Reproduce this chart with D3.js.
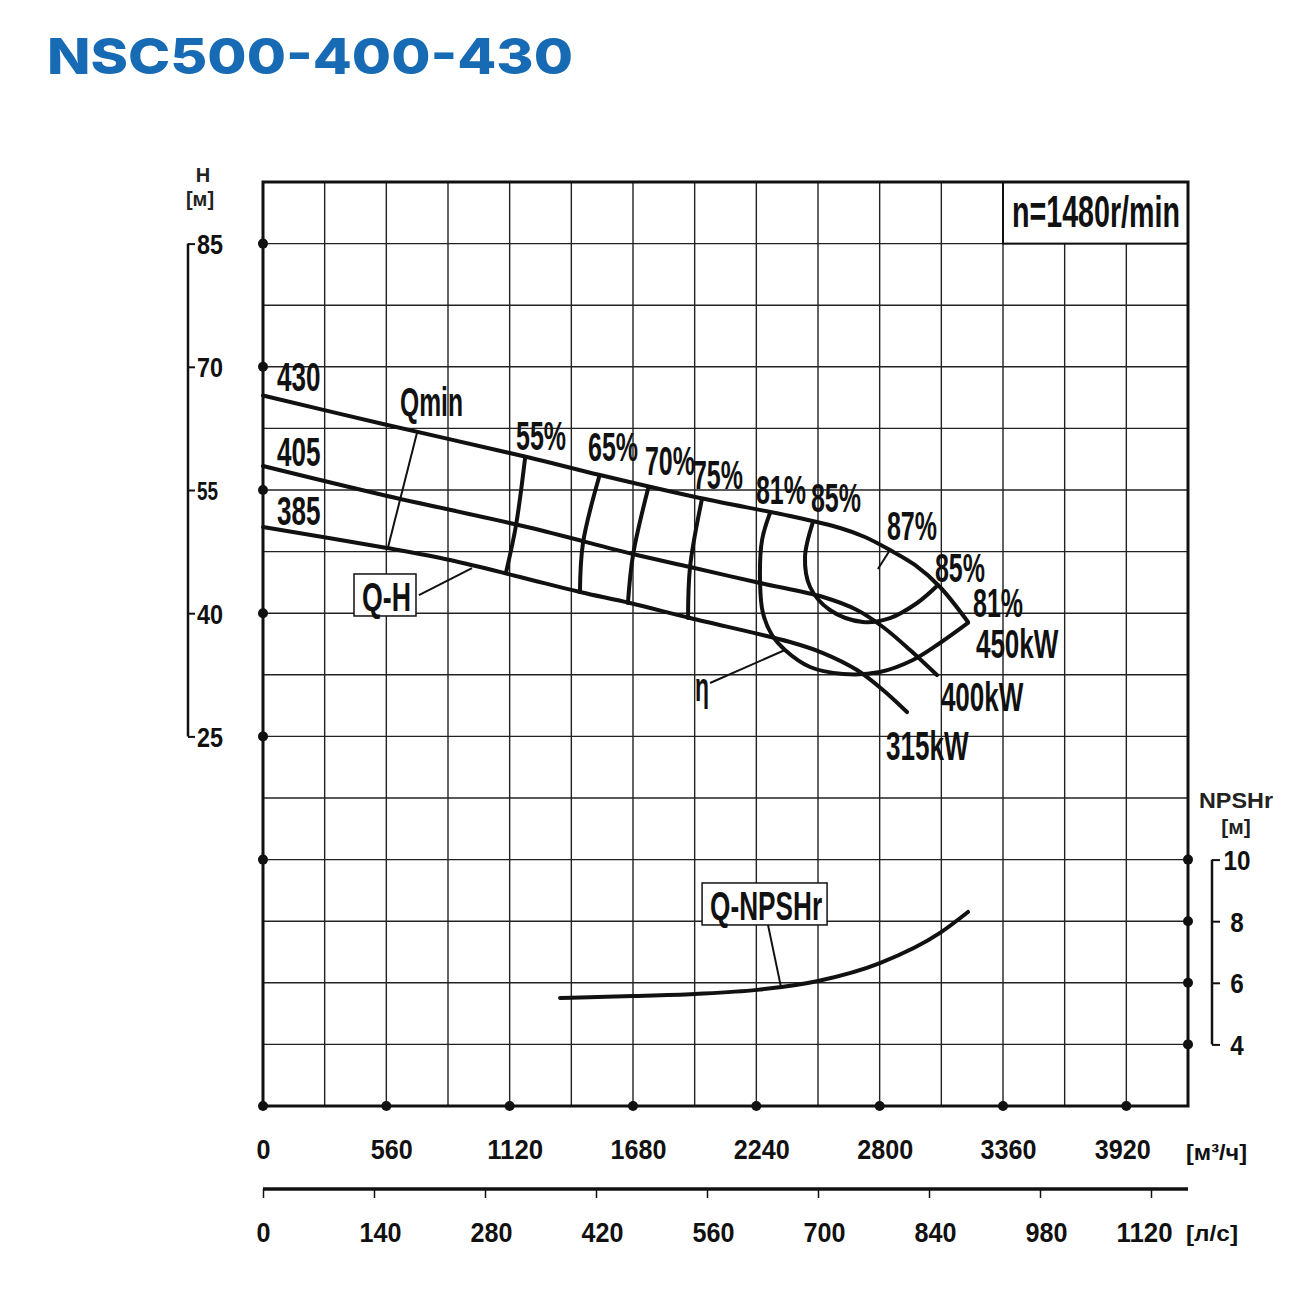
<!DOCTYPE html>
<html>
<head>
<meta charset="utf-8">
<script src="https://cdn.jsdelivr.net/npm/d3@7"></script>
<style>
  body { margin: 0; background: #fff; }
</style>
</head>
<body>
<svg id="chart"></svg>
<script>
// flow in m3/h, head in m, NPSHr in m
const qTicks = [0, 560, 1120, 1680, 2240, 2800, 3360, 3920];
const lsTicks = [0, 140, 280, 420, 560, 700, 840, 980, 1120];
const hTicks = [85, 70, 55, 40, 25];
const hDots = [85, 70, 55, 40, 25, 10];
const npshTicks = [10, 8, 6, 4];

// Q-H curves for the three impeller diameters
const qh430 = [[0, 66.50], [545, 63.03], [1199, 59.02], [1530, 56.82], [1984, 54.02], [2393, 51.83],
  [2620, 50.37], [2733, 49.28], [2847, 47.69], [2960, 45.87], [3074, 43.19], [3201, 38.93]];
const qh405 = [[0, 57.92], [545, 54.39], [1199, 50.49], [1680, 47.21], [1939, 45.62], [2257, 43.68],
  [2543, 41.97], [2697, 40.39], [2815, 38.32], [2938, 35.52], [3060, 32.47]];
const qh385 = [[0, 50.49], [563, 47.94], [849, 46.48], [1167, 44.41], [1439, 42.58], [1666, 41.24],
  [1939, 39.41], [2393, 36.49], [2543, 35.15], [2697, 33.08], [2815, 30.65], [2924, 27.97]];

// iso-efficiency lines
const eff55 = [[1190, 58.89], [1149, 50.74], [1103, 44.89]];
const eff65 = [[1526, 56.58], [1453, 48.55], [1439, 42.58]];
const eff70 = [[1748, 55.12], [1680, 47.08], [1657, 41.24]];
const eff75 = [[1993, 53.90], [1939, 45.62], [1930, 39.41]];
const eff81 = [[2302, 52.20], [2266, 48.91], [2257, 43.68], [2270, 40.02], [2311, 37.34], [2370, 35.52],
  [2484, 33.45], [2634, 32.60], [2801, 32.84], [2951, 34.30], [3074, 36.37], [3201, 38.81]];
const eff85 = [[2497, 51.10], [2461, 46.84], [2484, 43.19], [2574, 40.39], [2724, 38.93], [2847, 39.41],
  [2970, 41.24], [3065, 43.43]];

// Q-NPSHr
const npshr = [[1349, 5.51], [1680, 5.57], [1961, 5.64], [2243, 5.77], [2520, 6.06], [2801, 6.64],
  [3074, 7.62], [3201, 8.30]];

// labels on the head field: text, Q, H (left / baseline)
const headLabels = [
  ["430", 64, 67.05], ["405", 64, 57.92], ["385", 64, 50.74], ["Qmin", 622, 64.01],
  ["55%", 1149, 59.87], ["65%", 1476, 58.53], ["70%", 1734, 56.82], ["75%", 1952, 55.12],
  ["81%", 2238, 53.29], ["85%", 2488, 52.32], ["87%", 2833, 48.91], ["85%", 3051, 43.80],
  ["81%", 3224, 39.54], ["450kW", 3237, 34.55], ["400kW", 3078, 28.09], ["315kW", 2829, 22.13],
  ["η", 1962, 29.31]
];
// leader lines: [Q1, H1, Q2, H2]
const headLeaders = [
  [699, 61.94, 568, 48.06],    // Qmin
  [708, 42.21, 949, 45.50],    // Q-H
  [2792, 45.38, 2847, 47.70],  // 87%
  [2030, 31.50, 2370, 35.52]   // eta
];

const svg = d3.select("#chart").attr("width", 1310).attr("height", 1295);
const FONT = "'Liberation Sans Narrow','Arial Narrow','Liberation Sans',Arial,sans-serif";

const x = d3.scaleLinear().domain([0, 4200]).range([263, 1188]);
const xL = d3.scaleLinear().domain([0, 4200 / 3.6]).range([263, 1188]);
const yH = d3.scaleLinear().domain([-20, 92.5]).range([1106, 182]);
const yN = d3.scaleLinear().domain([2, 32]).range([1106, 182]);

// rough glyph widths for the condensed labels
const cw = { "0": 14.5, "1": 14.5, "2": 14.5, "3": 14.5, "4": 14.5, "5": 14.5, "6": 14.5, "7": 14.5, "8": 14.5, "9": 14.5,
  "%": 21, "k": 14, "W": 25, "Q": 19, "m": 22, "i": 8, "n": 14, "η": 14, "-": 10, "H": 20, "N": 20, "P": 18, "S": 18, "r": 10 };
const textWidth = s => Array.from(s).reduce((a, c) => a + (cw[c] || 14), 0);

function label(g, px, py, s, size, len, anchor) {
  return g.append("text")
    .attr("x", px).attr("y", py).text(s)
    .attr("font-family", FONT).attr("font-weight", "bold")
    .attr("font-size", size).attr("fill", "#111")
    .attr("text-anchor", anchor || "start")
    .attr("textLength", len).attr("lengthAdjust", "spacingAndGlyphs");
}

// title
svg.append("text")
  .attr("x", 47).attr("y", 74)
  .text("NSC500-400-430")
  .attr("font-family", "Inter, 'Noto Sans', sans-serif")
  .attr("font-weight", 800).attr("font-size", 50)
  .attr("fill", "#176bb4")
  .attr("textLength", 526).attr("lengthAdjust", "spacingAndGlyphs");

// grid
const grid = svg.append("g").attr("stroke", "#222").attr("stroke-width", 1.4);
d3.range(1, 15).forEach(i => {
  grid.append("line").attr("x1", x(i * 280)).attr("x2", x(i * 280)).attr("y1", yH(92.5)).attr("y2", yH(-20));
  const h = -20 + i * 7.5;
  grid.append("line").attr("x1", x(0)).attr("x2", x(4200)).attr("y1", yH(h)).attr("y2", yH(h));
});

// speed box
svg.append("rect")
  .attr("x", x(3360)).attr("y", yH(92.5))
  .attr("width", x(4200) - x(3360)).attr("height", yH(85) - yH(92.5))
  .attr("fill", "#fff").attr("stroke", "#111").attr("stroke-width", 2);
label(svg, 1012, 227, "n=1480r/min", 44, 168);

// frame
svg.append("rect")
  .attr("x", x(0)).attr("y", yH(92.5))
  .attr("width", x(4200) - x(0)).attr("height", yH(-20) - yH(92.5))
  .attr("fill", "none").attr("stroke", "#111").attr("stroke-width", 3);

// curves
const lineH = d3.line().x(d => x(d[0])).y(d => yH(d[1])).curve(d3.curveCatmullRom.alpha(0.5));
const lineE = d3.line().x(d => x(d[0])).y(d => yH(d[1])).curve(d3.curveCatmullRom.alpha(0.5));
const lineN = d3.line().x(d => x(d[0])).y(d => yN(d[1])).curve(d3.curveMonotoneX);

const curves = svg.append("g").attr("fill", "none").attr("stroke", "#111")
  .attr("stroke-width", 4).attr("stroke-linecap", "round").attr("stroke-linejoin", "round");
[qh430, qh405, qh385].forEach(c => curves.append("path").attr("d", lineH(c)));
[eff55, eff65, eff70, eff75, eff81, eff85].forEach(c => curves.append("path").attr("d", lineE(c)));
curves.append("path").attr("d", lineN(npshr));

// leaders
const leaders = svg.append("g").attr("stroke", "#111").attr("stroke-width", 2);
headLeaders.forEach(l => {
  leaders.append("line").attr("x1", x(l[0])).attr("y1", yH(l[1])).attr("x2", x(l[2])).attr("y2", yH(l[3]));
});
leaders.append("line")
  .attr("x1", x(2293)).attr("y1", yN(7.88)).attr("x2", x(2352)).attr("y2", yN(5.86));

// head field labels
headLabels.forEach(d => label(svg, x(d[1]), yH(d[2]), d[0], 40, textWidth(d[0])));

// boxed labels
function boxed(px, py, s, w) {
  svg.append("rect").attr("x", px - 8).attr("y", py - 37).attr("width", w + 13).attr("height", 42)
    .attr("fill", "#fff").attr("stroke", "#111").attr("stroke-width", 1.5);
  label(svg, px, py, s, 40, w);
}
boxed(x(449.5), yH(40.27), "Q-H", 49);
boxed(x(2030), yN(8.04), "Q-NPSHr", 112);

// dots on the frame
const dots = svg.append("g").attr("fill", "#111");
hDots.forEach(h => dots.append("circle").attr("cx", x(0)).attr("cy", yH(h)).attr("r", 5));
qTicks.forEach(q => dots.append("circle").attr("cx", x(q)).attr("cy", yH(-20)).attr("r", 5));
npshTicks.forEach(n => dots.append("circle").attr("cx", x(4200)).attr("cy", yN(n)).attr("r", 5));

// H axis
const hAxis = svg.append("g").attr("transform", "translate(188,0)")
  .call(d3.axisRight(yH).tickValues(hTicks).tickSize(7).tickFormat(d3.format("d")));
hAxis.select(".domain").remove();
hAxis.append("line").attr("y1", yH(85)).attr("y2", yH(25)).attr("stroke", "#111").attr("stroke-width", 2.5);
hAxis.selectAll(".tick line").attr("stroke", "#111").attr("stroke-width", 2);
hAxis.selectAll(".tick text")
  .attr("x", 9).attr("dy", "0.36em").attr("fill", "#111")
  .attr("font-family", FONT).attr("font-weight", "bold")
  .attr("font-size", d => d === 55 ? 25 : 28)
  .attr("textLength", d => d === 55 ? 21 : 26).attr("lengthAdjust", "spacingAndGlyphs");
svg.append("text").attr("x", 203).attr("y", 182).text("H")
  .attr("text-anchor", "middle").attr("font-family", "'Liberation Sans',Arial,sans-serif")
  .attr("font-weight", "bold").attr("font-size", 20).attr("fill", "#222");
svg.append("text").attr("x", 200).attr("y", 206).text("[м]")
  .attr("text-anchor", "middle").attr("font-family", "'Liberation Sans',Arial,sans-serif")
  .attr("font-weight", "bold").attr("font-size", 20).attr("fill", "#222");

// NPSHr axis
const nAxis = svg.append("g").attr("transform", "translate(1212,0)")
  .call(d3.axisRight(yN).tickValues(npshTicks).tickSize(8).tickFormat(d3.format("d")));
nAxis.select(".domain").remove();
nAxis.append("line").attr("y1", yN(10)).attr("y2", yN(4)).attr("stroke", "#111").attr("stroke-width", 2.5);
nAxis.selectAll(".tick line").attr("stroke", "#111").attr("stroke-width", 2);
nAxis.selectAll(".tick text")
  .attr("x", 25).attr("dy", "0.36em").attr("fill", "#111").attr("text-anchor", "middle")
  .attr("font-family", FONT).attr("font-weight", "bold").attr("font-size", 28)
  .attr("textLength", d => String(d).length * 13.5).attr("lengthAdjust", "spacingAndGlyphs");
svg.append("text").attr("x", 1236).attr("y", 808).text("NPSHr")
  .attr("text-anchor", "middle").attr("font-family", "'Liberation Sans',Arial,sans-serif")
  .attr("font-weight", "bold").attr("font-size", 22).attr("fill", "#222")
  .attr("textLength", 74).attr("lengthAdjust", "spacingAndGlyphs");
svg.append("text").attr("x", 1236).attr("y", 834).text("[м]")
  .attr("text-anchor", "middle").attr("font-family", "'Liberation Sans',Arial,sans-serif")
  .attr("font-weight", "bold").attr("font-size", 21).attr("fill", "#222");

// label nudges: first and last labels sit nearer the edges
const nudge = (i, n, mid, last) => i === 0 ? 0 : (i === n - 1 ? last : mid);

// Q axis in m3/h (labels only, the frame is the line)
const qAxis = svg.append("g").attr("transform", `translate(0,${yH(-20)})`)
  .call(d3.axisBottom(x).tickValues(qTicks).tickSize(0).tickFormat(d3.format("d")));
qAxis.select(".domain").remove();
qAxis.selectAll(".tick text")
  .attr("x", (d, i) => nudge(i, qTicks.length, 5, -4)).attr("y", 53).attr("dy", null).attr("fill", "#111")
  .attr("font-family", FONT).attr("font-weight", "bold").attr("font-size", 27)
  .attr("textLength", d => String(d).length * 14).attr("lengthAdjust", "spacingAndGlyphs");
label(svg, 1186, 1160, "[м³/ч]", 22, 61).attr("font-family", "'Liberation Sans',Arial,sans-serif");

// Q axis in l/s
const lAxis = svg.append("g").attr("transform", "translate(0,1189)")
  .call(d3.axisBottom(xL).tickValues(lsTicks).tickSize(9).tickFormat(d3.format("d")));
lAxis.select(".domain").remove();
lAxis.append("line").attr("x1", x(0)).attr("x2", x(4200)).attr("stroke", "#111").attr("stroke-width", 3.5);
lAxis.selectAll(".tick line").attr("stroke", "#111").attr("stroke-width", 1.5);
lAxis.selectAll(".tick text")
  .attr("x", (d, i) => nudge(i, lsTicks.length, 6, -7)).attr("y", 53).attr("dy", null).attr("fill", "#111")
  .attr("font-family", FONT).attr("font-weight", "bold").attr("font-size", 27)
  .attr("textLength", d => String(d).length * 14).attr("lengthAdjust", "spacingAndGlyphs");
label(svg, 1186, 1241, "[л/с]", 22, 52).attr("font-family", "'Liberation Sans',Arial,sans-serif");
</script>
</body>
</html>
